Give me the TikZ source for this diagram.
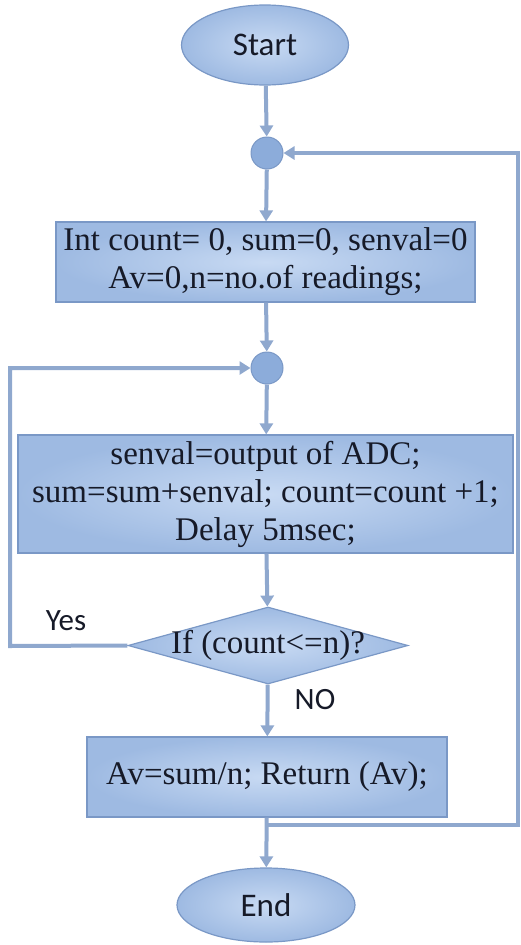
\documentclass[tikz,border=0pt]{standalone}
\usepackage{fontspec}
\setmainfont{Liberation Serif}
\newfontfamily\labelfont{Carlito}
\usetikzlibrary{shapes.geometric,arrows.meta}

\definecolor{flowin}{RGB}{200,218,243}
\definecolor{flowout}{RGB}{158,186,226}
\definecolor{flowedge}{RGB}{122,152,198}
\definecolor{flowline}{RGB}{143,168,206}
\definecolor{joinfill}{RGB}{140,172,218}
\definecolor{flowtext}{RGB}{22,26,40}

\tikzset{
  base/.style={draw=flowedge, line width=1.2pt, text=flowtext, inner color=flowin, outer color=flowout},
  terminal/.style={base, ellipse, font=\labelfont\fontsize{33}{36}\selectfont},
  process/.style={base, rectangle, align=center, font=\fontsize{33}{38}\selectfont},
  decision/.style={base, diamond, aspect=3.6, inner sep=0pt, minimum width=280pt, minimum height=77pt,
                   font=\fontsize{33}{38}\selectfont},
  junction/.style={circle, fill=joinfill, draw=flowedge, line width=1pt, minimum size=32pt, inner sep=0pt},
  flow/.style={draw=flowline, line width=4pt},
  arrow/.style={flow, -{Triangle[width=13pt,length=11pt]}},
  note/.style={font=\labelfont\fontsize{31}{34}\selectfont, text=flowtext}
}

\begin{document}
\begin{tikzpicture}[x=1pt,y=-1pt]
\useasboundingbox (0,0) rectangle (520,945);

\node[terminal, minimum width=167pt, minimum height=80pt] (start) at (265,45) {Start};
\node[junction] (join1) at (267,153) {};
\node[process, minimum width=419pt, minimum height=80pt] (init) at (265.5,262)
  {Int count= 0, sum=0, senval=0\\ Av=0,n=no.of readings;};
\node[junction] (join2) at (267,368) {};
\node[process, minimum width=495pt, minimum height=118pt] (read) at (265.5,494)
  {senval=output of ADC;\\ sum=sum+senval; count=count +1;\\ Delay 5msec;};
\node[decision] (test) at (268,645.5) {\makebox[0pt]{If (count<=n)?}};
\node[process, minimum width=360pt, minimum height=80pt] (avg) at (267,777)
  {Av=sum/n; Return (Av);};
\node[terminal, minimum width=178pt, minimum height=74pt] (stop) at (266,905) {End};

\node[note] (yes) at (66,621) {Yes};
\node[note] (no) at (315,700) {NO};

\coordinate (yesturn) at (10,646);
\coordinate (merge) at (267,825);
\coordinate (backturn) at (518,825);

% main line
\draw[arrow] (start) -- (join1);
\draw[arrow] (join1) -- (init);
\draw[arrow] (init) -- (join2);
\draw[arrow] (join2) -- (read);
\draw[arrow] (read) -- (test);
\draw[arrow] (test) -- (avg);
\draw[arrow] (avg) -- (stop);

% loops
\draw[arrow] (test.west) -- (yesturn) |- (join2);
\draw[arrow] (merge) -- (backturn) |- (join1);
\end{tikzpicture}
\end{document}
